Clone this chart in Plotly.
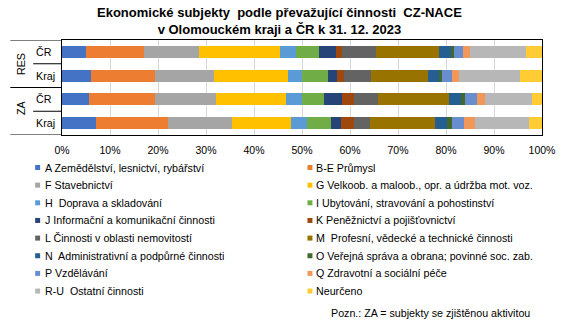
import plotly.graph_objects as go

# ---------------- data ----------------
groups = ["RES", "RES", "ZA", "ZA"]
regions = ["ČR", "Kraj", "ČR", "Kraj"]
row_keys = ["RES ČR", "RES Kraj", "ZA ČR", "ZA Kraj"]

series_names = [
    "A Zemědělství, lesnictví, rybářství",
    "B-E Průmysl",
    "F Stavebnictví",
    "G Velkoob. a maloob., opr. a údržba mot. voz.",
    "H  Doprava a skladování",
    "I Ubytování, stravování a pohostinství",
    "J Informační a komunikační činnosti",
    "K Peněžnictví a pojišťovnictví",
    "L Činnosti v oblasti nemovitostí",
    "M  Profesní, vědecké a technické činnosti",
    "N  Administrativní a podpůrné činnosti",
    "O Veřejná správa a obrana; povinné soc. zab.",
    "P Vzdělávání",
    "Q Zdravotní a sociální péče",
    "R-U  Ostatní činnosti",
    "Neurčeno",
]

# shares in % for rows: RES ČR, RES Kraj, ZA ČR, ZA Kraj
A_vals   = [5.1, 6.1, 5.7, 7.0]
BE_vals  = [12.0, 13.3, 13.7, 15.1]
F_vals   = [11.4, 12.2, 12.7, 13.3]
G_vals   = [17.0, 15.4, 14.5, 12.4]
H_vals   = [3.3, 3.0, 3.4, 3.3]
I_vals   = [4.8, 5.5, 4.5, 5.0]
J_vals   = [3.4, 1.7, 3.9, 2.1]
K_vals   = [1.3, 1.6, 2.5, 2.7]
L_vals   = [7.2, 5.6, 4.9, 3.3]
M_vals   = [13.0, 11.8, 14.8, 13.5]
N_vals   = [2.6, 2.5, 2.6, 2.5]
O_vals   = [0.5, 0.4, 0.7, 1.0]
P_vals   = [2.0, 2.1, 2.5, 2.5]
Q_vals   = [1.4, 1.5, 1.7, 2.3]
RU_vals  = [11.6, 12.8, 9.9, 11.2]
NE_vals  = [3.4, 4.5, 2.0, 2.8]

series_values = [A_vals, BE_vals, F_vals, G_vals, H_vals, I_vals, J_vals, K_vals,
                 L_vals, M_vals, N_vals, O_vals, P_vals, Q_vals, RU_vals, NE_vals]

colors = ["#4472C4", "#ED7D31", "#A5A5A5", "#FFC000", "#5B9BD5", "#70AD47",
          "#264478", "#9E480E", "#636363", "#997300", "#255E91", "#43682B",
          "#698ED0", "#F1975A", "#B7B7B7", "#FFCD33"]

x_ticks = [0, 10, 20, 30, 40, 50, 60, 70, 80, 90, 100]
x_tick_labels = [f"{v}%" for v in x_ticks]
note = "Pozn.: ZA = subjekty se zjištěnou aktivitou"
title = "Ekonomické subjekty  podle převažující činnosti  CZ-NACE<br>v Olomouckém kraji a ČR k 31. 12. 2023"

# ---------------- layout geometry ----------------
W, H = 567, 332
ML, MR, MT, MB = 62, 22, 40, 197
PW = W - ML - MR
PH = H - MT - MB


def px_x(p):
    return (p - ML) / PW


def px_y(p):
    return (H - MB - p) / PH


FONT = "Liberation Sans, Arial, sans-serif"

fig = go.Figure()
for name, vals, col in zip(series_names, series_values, colors):
    fig.add_trace(go.Bar(
        x=vals, y=row_keys, orientation="h", name=name,
        marker=dict(color=col, line=dict(width=0)),
        width=0.5, showlegend=False,
    ))

fig.update_layout(
    width=W, height=H, barmode="stack",
    margin=dict(l=ML, r=MR, t=MT, b=MB, pad=0),
    paper_bgcolor="white", plot_bgcolor="white",
    font=dict(family=FONT, size=10.5, color="#000"),
    showlegend=False,
    xaxis=dict(range=[0, 100], tickmode="array", tickvals=x_ticks, ticktext=x_tick_labels,
               showgrid=True, gridcolor="#D9D9D9", gridwidth=1,
               showline=True, mirror=True, linecolor="#000", linewidth=1,
               zeroline=False, ticks="", ticklabelstandoff=5,
               tickfont=dict(size=10.5, color="#000"), fixedrange=True),
    yaxis=dict(categoryorder="array", categoryarray=row_keys,
               range=[3.5, -0.5], showticklabels=False,
               showline=True, mirror=True, linecolor="#000", linewidth=1,
               showgrid=False, zeroline=False, ticks="", fixedrange=True),
)

# title
fig.add_annotation(text="<b>" + title.replace("<br>", "</b><br><b>") + "</b>",
                   xref="paper", yref="paper", x=px_x(281), y=px_y(21),
                   xanchor="center", yanchor="middle", showarrow=False,
                   font=dict(size=13, color="#000", family=FONT))

# category-axis lines (two-level labels)
shapes = []
line = dict(color="#000", width=1)
for yb in [-0.5, 1.5, 3.5]:
    shapes.append(dict(type="line", xref="paper", yref="y", x0=px_x(10), x1=0,
                       y0=yb, y1=yb, line=line))
for yb in [0.5, 2.5]:
    shapes.append(dict(type="line", xref="paper", yref="y", x0=px_x(33), x1=0,
                       y0=yb, y1=yb, line=line))

annotations = []
for i, (g, r) in enumerate(zip(groups, regions)):
    annotations.append(dict(text=r, xref="paper", yref="y", x=px_x(34), y=row_keys[i],
                            xanchor="left", yanchor="middle", showarrow=False,
                            font=dict(size=10.7, color="#000")))
group_names = ["RES", "ZA"]
for gi, g in enumerate(group_names):
    yc = gi * 2 + 0.5
    annotations.append(dict(text=g, xref="paper", yref="y", x=px_x(20), y=yc - (0.15 if g == "ZA" else 0),
                            xanchor="center", yanchor="middle", textangle=-90,
                            showarrow=False, font=dict(size=10.7, color="#000")))

# legend (two columns)
col_marker_x = [37.5, 311.5]
col_text_x = [43, 316]
row_y0, row_dy = 167.5, 17.65
for i, (name, col) in enumerate(zip(series_names, colors)):
    c, r = i % 2, i // 2
    yc = row_y0 + r * row_dy
    shapes.append(dict(type="rect", xref="paper", yref="paper",
                       x0=px_x(col_marker_x[c] - 2.5), x1=px_x(col_marker_x[c] + 2.5),
                       y0=px_y(yc - 2.5), y1=px_y(yc + 2.5),
                       fillcolor=col, line=dict(width=0)))
    annotations.append(dict(text=name, xref="paper", yref="paper",
                            x=px_x(col_text_x[c]), y=px_y(yc),
                            xanchor="left", yanchor="middle", showarrow=False,
                            font=dict(size=10.7, color="#000")))

annotations.append(dict(text=note, xref="paper", yref="paper",
                        x=px_x(535), y=px_y(313), xanchor="right", yanchor="middle",
                        showarrow=False, font=dict(size=10.7, color="#000")))

fig.update_layout(shapes=shapes)
for a in annotations:
    fig.add_annotation(**a)

fig.write_html("out.html")
